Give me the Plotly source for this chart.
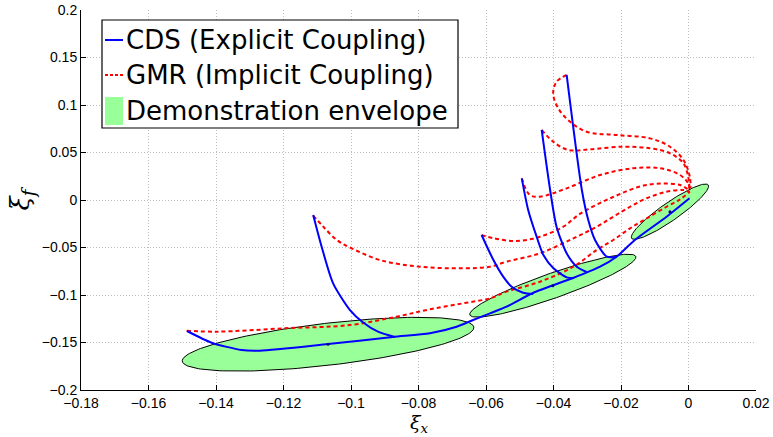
import numpy as np
import plotly.graph_objects as go

# ---- CDS (explicit coupling) trajectories ----
cds_main_x = [-0.1486, -0.1413, -0.1324, -0.1270, -0.1068, -0.0876, -0.0766, -0.0687,
              -0.0638, -0.0588, -0.0539, -0.0461, -0.0342, -0.0262, -0.0213, -0.0159,
              -0.0065, 0.0003]
cds_main_y = [-0.1379, -0.1502, -0.1579, -0.1586, -0.1516, -0.1442, -0.1403, -0.1334,
              -0.1263, -0.1193, -0.1123, -0.0979, -0.0821, -0.0702, -0.0597, -0.0421,
              -0.0176, 0.0018]
cds_b_x = [-0.1112, -0.1087, -0.1053, -0.1003, -0.0964, -0.0920, -0.0870]
cds_b_y = [-0.0158, -0.0492, -0.0877, -0.1158, -0.1289, -0.1386, -0.1442]
cds_c_x = [-0.0613, -0.0578, -0.0549, -0.0524, -0.0490, -0.0460]
cds_c_y = [-0.0368, -0.0632, -0.0807, -0.0913, -0.0976, -0.0989]
cds_d_x = [-0.0494, -0.0475, -0.0450, -0.0430, -0.0400, -0.0361, -0.0341]
cds_d_y = [0.0228, -0.0105, -0.0386, -0.0579, -0.0719, -0.0814, -0.0824]
cds_e_x = [-0.0435, -0.0410, -0.0391, -0.0361, -0.0331, -0.0302]
cds_e_y = [0.0737, 0.0105, -0.0281, -0.0561, -0.0702, -0.0758]
cds_f_x = [-0.0361, -0.0316, -0.0297, -0.0277, -0.0242, -0.0213]
cds_f_y = [0.1316, 0.0105, -0.0211, -0.0421, -0.0597, -0.0597]

# ---- GMR (implicit coupling) trajectories ----
gmr_a_x = [-0.1487, -0.1398, -0.1201, -0.1003, -0.0865, -0.0766, -0.0667, -0.0588,
           -0.0539, -0.0440, -0.0341, -0.0272, -0.0223, -0.0173, -0.0124, -0.0065,
           -0.0025, 0.0004]
gmr_a_y = [-0.1376, -0.1386, -0.1351, -0.1316, -0.1228, -0.1151, -0.1087, -0.1035,
           -0.0965, -0.0860, -0.0702, -0.0526, -0.0421, -0.0298, -0.0193, -0.0071,
           0.0007, 0.0087]
gmr_b_x = [-0.1112, -0.1082, -0.1042, -0.1003, -0.0914, -0.0796, -0.0667, -0.0588,
           -0.0539, -0.0440, -0.0341, -0.0272, -0.0223, -0.0173, -0.0124, -0.0065,
           -0.0015, 0.0004]
gmr_b_y = [-0.0165, -0.0281, -0.0421, -0.0500, -0.0632, -0.0702, -0.0719, -0.0702,
           -0.0649, -0.0561, -0.0403, -0.0281, -0.0176, -0.0071, 0.0018, 0.0087,
           0.0105, 0.0087]
gmr_c_x = [-0.0613, -0.0578, -0.0509, -0.0440, -0.0371, -0.0322, -0.0223, -0.0124,
           -0.0025, 0.0004]
gmr_c_y = [-0.0368, -0.0403, -0.0432, -0.0386, -0.0281, -0.0147, 0.0032, 0.0158,
           0.0158, 0.0095]
gmr_d_x = [-0.0494, -0.0470, -0.0440, -0.0361, -0.0262, -0.0164, -0.0084, -0.0025,
           -0.0001, 0.0003]
gmr_d_y = [0.0228, 0.0053, 0.0035, 0.0123, 0.0263, 0.0334, 0.0334, 0.0263, 0.0176, 0.0105]
gmr_e_x = [-0.0435, -0.0401, -0.0356, -0.0292, -0.0193, -0.0114, -0.0055, -0.0015,
           -0.0001, 0.0003]
gmr_e_y = [0.0737, 0.0614, 0.0526, 0.0534, 0.0561, 0.0544, 0.0492, 0.0386, 0.0245, 0.0126]
gmr_f_x = [-0.0361, -0.0391, -0.0401, -0.0386, -0.0351, -0.0302, -0.0213, -0.0114,
           -0.0055, -0.0015, 0.0004, 0.0006]
gmr_f_y = [0.1316, 0.1245, 0.1123, 0.0965, 0.0824, 0.0719, 0.0684, 0.0649, 0.0561,
           0.0421, 0.0245, 0.0126]

# ---- Demonstration envelopes: centre, semi-major and semi-minor axis vectors ----
env_cx = [-0.1068, -0.0402, -0.0055]
env_cy = [-0.1518, -0.0902, -0.0123]
env_ux = [0.04320, 0.02459, 0.01135]
env_uy = [0.01789, 0.03074, 0.02811]
env_vx = [0.00072, 0.00123, 0.00153]
env_vy = [-0.02196, -0.01241, -0.00777]

x_ticks = [-0.18, -0.16, -0.14, -0.12, -0.1, -0.08, -0.06, -0.04, -0.02, 0, 0.02]
y_ticks = [-0.2, -0.15, -0.1, -0.05, 0, 0.05, 0.1, 0.15, 0.2]

legend_labels = ["CDS (Explicit Coupling)", "GMR (Implicit Coupling)",
                 "Demonstration envelope"]

BLUE = "#0000FF"
RED = "#FF0000"
GREEN = "#99FF99"
RED_DASH = "4px,3px"

W, H = 773, 437
ML, MR, MT, MB = 81, 17, 10, 47
PW, PH = W - ML - MR, H - MT - MB


def px_to_paper(px, py):
    """Pixel position on the page -> paper coordinates of the plot area."""
    return (px - ML) / PW, (H - MB - py) / PH


def tick_text(vals):
    return [("\u2212" if v < 0 else "") + f"{abs(v):g}" for v in vals]


fig = go.Figure()

t = np.linspace(0, 2 * np.pi, 200)
for i in range(len(env_cx)):
    ex = env_cx[i] + env_ux[i] * np.cos(t) + env_vx[i] * np.sin(t)
    ey = env_cy[i] + env_uy[i] * np.cos(t) + env_vy[i] * np.sin(t)
    fig.add_trace(go.Scatter(x=ex, y=ey, mode="lines", fill="toself",
                             fillcolor=GREEN, line=dict(color="black", width=1),
                             name=legend_labels[2], showlegend=False,
                             hoverinfo="skip"))

gmr = [(gmr_a_x, gmr_a_y), (gmr_b_x, gmr_b_y), (gmr_c_x, gmr_c_y),
       (gmr_d_x, gmr_d_y), (gmr_e_x, gmr_e_y), (gmr_f_x, gmr_f_y)]
for gx, gy in gmr:
    fig.add_trace(go.Scatter(x=gx, y=gy, mode="lines", line_shape="spline",
                             line=dict(color=RED, width=2, dash=RED_DASH),
                             name=legend_labels[1], showlegend=False))

cds = [(cds_main_x, cds_main_y), (cds_b_x, cds_b_y), (cds_c_x, cds_c_y),
       (cds_d_x, cds_d_y), (cds_e_x, cds_e_y), (cds_f_x, cds_f_y)]
for cx, cy in cds:
    fig.add_trace(go.Scatter(x=cx, y=cy, mode="lines", line_shape="spline",
                             line=dict(color=BLUE, width=2, smoothing=0.7),
                             name=legend_labels[0], showlegend=False))

# envelope centres
fig.add_trace(go.Scatter(x=env_cx, y=env_cy, mode="markers",
                         marker=dict(color="#000080", size=3),
                         showlegend=False, hoverinfo="skip"))

# ---- boxed legend in the upper-left corner ----
shapes = []
annotations = []
bx0, by0 = px_to_paper(102, 20)
bx1, by1 = px_to_paper(458, 128)
shapes.append(dict(type="rect", xref="paper", yref="paper", x0=bx0, y0=by1,
                   x1=bx1, y1=by0, line=dict(color="black", width=1.2),
                   fillcolor="white", layer="above"))
row_y = [40, 75, 111]
sx0, _ = px_to_paper(105, 0)
sx1, _ = px_to_paper(123, 0)
tx, _ = px_to_paper(124, 0)
for k, label in enumerate(legend_labels):
    _, yy = px_to_paper(0, row_y[k])
    if k == 0:
        shapes.append(dict(type="line", xref="paper", yref="paper", x0=sx0, x1=sx1,
                           y0=yy, y1=yy, line=dict(color=BLUE, width=2), layer="above"))
    elif k == 1:
        shapes.append(dict(type="line", xref="paper", yref="paper", x0=sx0, x1=sx1,
                           y0=yy, y1=yy, line=dict(color=RED, width=2, dash="3px,2px"),
                           layer="above"))
    else:
        _, ytop = px_to_paper(0, 97)
        _, ybot = px_to_paper(0, 125)
        shapes.append(dict(type="rect", xref="paper", yref="paper", x0=sx0, x1=sx1,
                           y0=ybot, y1=ytop, line=dict(width=0), fillcolor=GREEN,
                           layer="above"))
    annotations.append(dict(text=label, xref="paper", yref="paper", x=tx, y=yy,
                            xanchor="left", yanchor="middle", showarrow=False,
                            font=dict(family="DejaVu Sans", size=26, color="black")))

# x-axis label placed under the tick labels
lx, ly = px_to_paper((ML + W - MR) / 2, 437)
annotations.append(dict(text="<i>ξ</i><sub><i>x</i></sub>", xref="paper", yref="paper",
                        x=lx, y=ly, xanchor="center", yanchor="bottom", showarrow=False,
                        borderpad=0,
                        font=dict(family="DejaVu Serif", size=19, color="black")))

axis_common = dict(
    showgrid=True, gridcolor="#BDBDBD", griddash="1px,2px", gridwidth=1,
    zeroline=False, showline=True, linecolor="black", linewidth=1,
    ticks="inside", ticklen=5, tickcolor="black", automargin=False,
    tickfont=dict(family="Liberation Sans, Arial", size=14, color="black"),
)

fig.update_layout(
    width=W, height=H,
    margin=dict(l=ML, r=MR, t=MT, b=MB),
    paper_bgcolor="white", plot_bgcolor="white",
    xaxis=dict(range=[-0.18, 0.02], tickvals=x_ticks, ticktext=tick_text(x_ticks),
               **axis_common),
    yaxis=dict(range=[-0.2, 0.2], tickvals=y_ticks, ticktext=tick_text(y_ticks),
               title=dict(text="<i>ξ</i><sub><i>f</i></sub>", standoff=4,
                          font=dict(family="DejaVu Serif", size=26, color="black")),
               **axis_common),
    shapes=shapes,
    annotations=annotations,
    showlegend=False,
)

fig.write_html("out.html")
